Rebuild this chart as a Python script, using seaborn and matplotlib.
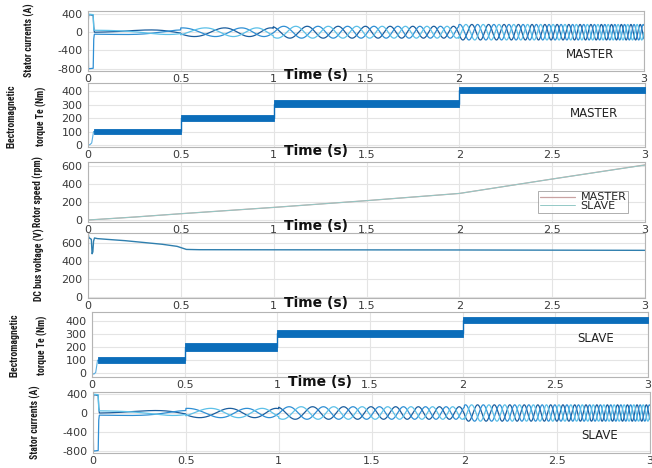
import numpy as np
import pandas as pd
import matplotlib
matplotlib.use("Agg")
import matplotlib.pyplot as plt
import seaborn as sns
from matplotlib import font_manager

# ---- shared time axis ----
x_ticks = [0, 0.5, 1, 1.5, 2, 2.5, 3]
x_tick_labels = ["0", "0.5", "1", "1.5", "2", "2.5", "3"]

# ---- rotor speed (rpm) ----
speed_t = [0.0, 0.25, 0.5, 1.0, 1.5, 2.0, 2.5, 3.0]
speed_master = [0, 33, 70, 140, 215, 295, 455, 612]
speed_slave = [0, 33, 70, 140, 215, 295, 455, 610]

# ---- electromagnetic torque (Nm): load steps and ripple band ----
step_t = [0.03, 0.5, 1.0, 2.0, 3.0]
te_master_low = [85, 180, 282, 385]
te_master_high = [122, 225, 332, 432]
te_slave_low = [78, 172, 280, 382]
te_slave_high = [125, 228, 335, 435]
te_start_t = [0.0, 0.01, 0.02, 0.03]
te_master_start = [0, 2, 15, 100]
te_slave_start = [0, -8, 5, 100]

# ---- DC bus voltage (V) ----
vdc_t = [0.0, 0.002, 0.004, 0.018, 0.022, 0.026, 0.03, 0.035, 0.05, 0.1,
         0.2, 0.3, 0.4, 0.48, 0.53, 0.6, 1.0, 2.0, 3.0]
vdc = [0, 690, 660, 640, 480, 500, 620, 655, 648, 640,
       625, 605, 585, 562, 528, 525, 524, 522, 518]

# ---- stator currents (A) ----
amp_master = [50, 95, 130, 170]          # peak per load step
amp_slave = [52, 98, 132, 172]
pole_pairs = 2
# inrush at start-up
start_t = [0.0, 0.003, 0.006, 0.028, 0.031, 0.034]
ia_start = [0, 380, 385, 370, 120, 5]
ib_start = [0, -790, -800, -790, -150, -50]
ic_start = [0, 400, 395, 385, 60, 45]

phase_names = ["a", "b", "c"]
phase_colors = ["#1b5e9e", "#2f8fd4", "#5cc0e8"]

W, H = 652, 468


def currents_frame(speed, amps):
    t = np.linspace(0.035, 3.0, 7000)
    n = np.interp(t, speed_t, speed)
    theta = 2 * np.pi * pole_pairs / 60.0 * np.concatenate(
        [[0.0], np.cumsum(0.5 * (n[1:] + n[:-1]) * np.diff(t))])
    idx = np.clip(np.searchsorted(step_t[1:], t, side="right"), 0, len(amps) - 1)
    a = np.asarray(amps, dtype=float)[idx]
    frames = []
    starts = [ia_start, ib_start, ic_start]
    for k, name in enumerate(phase_names):
        wave = a * np.sin(theta - k * 2 * np.pi / 3)
        frames.append(pd.DataFrame({
            "t": np.concatenate([start_t, t]),
            "i": np.concatenate([starts[k], wave]),
            "phase": name,
        }))
    return pd.concat(frames, ignore_index=True)


sns.set_style("whitegrid", {
    "axes.edgecolor": "#b4b4b4",
    "grid.color": "#e4e4e4",
    "axes.linewidth": 0.6,
    "grid.linewidth": 0.6,
})
plt.rcParams["font.family"] = ["DejaVu Sans"]

available = {f.name for f in font_manager.fontManager.ttflist}
narrow = next((f for f in ["Liberation Sans Narrow", "DejaVu Sans Condensed",
                           "Roboto Condensed", "Open Sans Condensed"]
               if f in available), "DejaVu Sans")

fig = plt.figure(figsize=(6.52, 4.68), dpi=100)


def add_axes(x0, x1, y0, y1):
    return fig.add_axes([x0 / W, 1 - y1 / H, (x1 - x0) / W, (y1 - y0) / H])


def style(ax, ylim, yticks, time_label=True):
    ax.set_xlim(0, 3)
    ax.set_ylim(*ylim)
    ax.set_xticks(x_ticks)
    ax.set_xticklabels(x_tick_labels)
    ax.set_yticks(yticks)
    ax.set_yticklabels([str(v) for v in yticks])
    ax.tick_params(axis="both", labelsize=8, labelcolor="#3a3a3a",
                   color="#9a9a9a", direction="in", length=2.5, width=0.5,
                   pad=2.5)
    ax.tick_params(axis="y", pad=4)
    ax.set_xlabel("")
    ax.set_ylabel("")
    if time_label:
        ax.text(0.41, -0.07, "Time (s)", transform=ax.transAxes,
                ha="center", va="center", fontsize=10, fontweight="bold",
                color="#111111")


def ylab(x_px, y_px, text, linespacing=1.0):
    fig.text(x_px / W, 1 - y_px / H, text, rotation=90, ha="center",
             va="center", fontsize=7, fontweight="bold", family=narrow,
             color="#1a1a1a", linespacing=linespacing)


def torque_panel(ax, low, high, st, sv):
    ax.fill_between(step_t, low + [low[-1]], high + [high[-1]], step="post",
                    color="#0b6dba", lw=0.6, edgecolor="#0b6dba", zorder=3)
    mid = [(l + h) / 2 for l, h in zip(low, high)]
    ax.plot(step_t, mid + [mid[-1]], drawstyle="steps-post", color="#0b6dba",
            lw=1.0, zorder=3)
    sns.lineplot(x=st, y=sv, ax=ax, color="#5aaee0", lw=0.8,
                 estimator=None, sort=False, zorder=2)


def label_tag(ax, x, y, text):
    ax.text(x, y, text, transform=ax.transAxes, ha="center", va="center",
            fontsize=8.5, color="#222222")


# 1) stator currents, master
ax1 = add_axes(88, 644, 11, 71)
sns.lineplot(data=currents_frame(speed_master, amp_master), x="t", y="i",
             hue="phase", palette=phase_colors, ax=ax1, lw=0.9,
             estimator=None, sort=False, legend=False)
style(ax1, (-850, 465), [-800, -400, 0, 400])
label_tag(ax1, 0.903, 0.283, "MASTER")
ylab(29, 40, "Stator currents (A)")

# 2) electromagnetic torque, master
ax2 = add_axes(88, 645, 83, 147)
torque_panel(ax2, te_master_low, te_master_high, te_start_t, te_master_start)
style(ax2, (-15, 460), [0, 100, 200, 300, 400])
label_tag(ax2, 0.908, 0.523, "MASTER")
ylab(27, 116, "Electromagnetic\ntorque Te (Nm)", linespacing=3.2)

# 3) rotor speed
ax3 = add_axes(88, 645, 162, 222)
sns.lineplot(x=speed_t, y=speed_master, ax=ax3, color="#c9a2a2", lw=0.9,
             label="MASTER", estimator=None, sort=False)
sns.lineplot(x=speed_t, y=speed_slave, ax=ax3, color="#93c9c6", lw=0.7,
             label="SLAVE", estimator=None, sort=False)
style(ax3, (-22, 644), [0, 200, 400, 600])
leg = ax3.legend(loc="lower right", bbox_to_anchor=(0.97, 0.15), fontsize=8,
                 frameon=True, fancybox=False, labelspacing=-0.1,
                 borderpad=0.15, handletextpad=0.5, handlelength=3.2,
                 borderaxespad=0.0)
leg.get_frame().set_edgecolor("#8a8a8a")
leg.get_frame().set_linewidth(0.6)
ylab(38, 192, "Rotor speed (rpm)")

# 4) DC bus voltage
ax4 = add_axes(88, 645, 233, 298)
sns.lineplot(x=vdc_t, y=vdc, ax=ax4, color="#2f7fae", lw=1.0,
             estimator=None, sort=False)
style(ax4, (-10, 710), [0, 200, 400, 600])
ylab(39, 265, "DC bus voltage (V)")

# 5) electromagnetic torque, slave
ax5 = add_axes(92, 648, 312, 377)
torque_panel(ax5, te_slave_low, te_slave_high, te_start_t, te_slave_start)
style(ax5, (-30, 470), [0, 100, 200, 300, 400])
label_tag(ax5, 0.906, 0.59, "SLAVE")
ylab(29, 345, "Electromagnetic\ntorque Te (Nm)", linespacing=3.0)

# 6) stator currents, slave
ax6 = add_axes(93, 650, 392, 453)
sns.lineplot(data=currents_frame(speed_slave, amp_slave), x="t", y="i",
             hue="phase", palette=phase_colors, ax=ax6, lw=0.9,
             estimator=None, sort=False, legend=False)
style(ax6, (-842, 442), [-800, -400, 0, 400], time_label=False)
label_tag(ax6, 0.91, 0.287, "SLAVE")
ylab(35, 422, "Stator currents (A)")

fig.savefig("out.png", dpi=100, facecolor="white")
